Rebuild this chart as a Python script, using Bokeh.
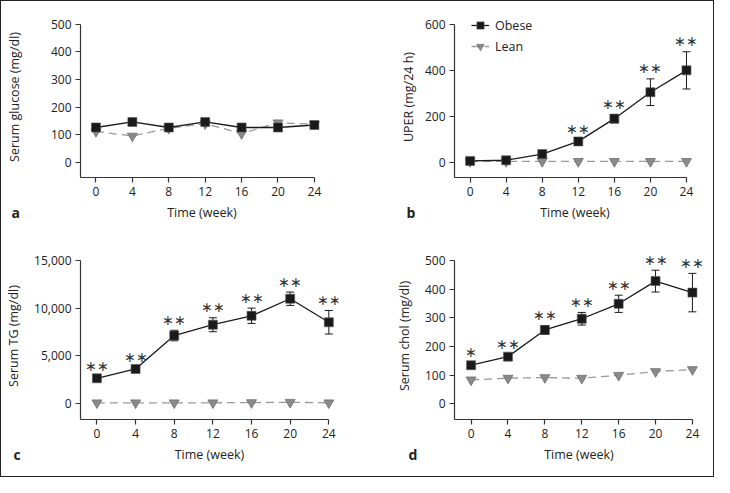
from bokeh.plotting import figure
from bokeh.models import (ColumnDataSource, Range1d, FixedTicker, NumeralTickFormatter,
                          Whisker, TeeHead, LabelSet, Label, Legend, LegendItem)
from bokeh.layouts import column, row
from bokeh.embed import file_html
from bokeh.resources import INLINE

# ---------------- data ----------------
weeks = [0, 4, 8, 12, 16, 20, 24]
week_ticks = [0, 4, 8, 12, 16, 20, 24]

glucose_obese = [126, 146, 126, 146, 126, 126, 135]
glucose_obese_err = [0, 0, 0, 0, 0, 0, 0]
glucose_lean = [112, 95, 123, 140, 104, 143, 138]
glucose_stars = ["", "", "", "", "", "", ""]
glucose_ticks = [0, 100, 200, 300, 400, 500]

uper_obese = [5, 8, 35, 90, 189, 304, 399]
uper_obese_err = [3, 3, 5, 8, 18, 58, 81]
uper_lean = [3, 3, 3, 3, 3, 3, 3]
uper_stars = ["", "", "", "∗∗", "∗∗", "∗∗", "∗∗"]
uper_ticks = [0, 200, 400, 600]

tg_obese = [2665, 3640, 7140, 8270, 9210, 10990, 8530]
tg_obese_err = [150, 150, 550, 730, 800, 700, 1230]
tg_lean = [100, 100, 100, 100, 120, 150, 100]
tg_stars = ["∗∗", "∗∗", "∗∗", "∗∗", "∗∗", "∗∗", "∗∗"]
tg_ticks = [0, 5000, 10000, 15000]

chol_obese = [135, 165, 258, 297, 349, 428, 388]
chol_obese_err = [8, 6, 15, 22, 30, 38, 67]
chol_lean = [84, 90, 92, 90, 100, 113, 120]
chol_stars = ["∗", "∗∗", "∗∗", "∗∗", "∗∗", "∗∗", "∗∗"]
chol_ticks = [0, 100, 200, 300, 400, 500]

FONT = "Open Sans"
TXT = "#222222"
OBESE_C = "#1a1a1a"
LEAN_FILL = "#8a8a8a"
LEAN_LINE = "#999999"


def panel(W, H, L, R, T, B, xmin, xend, ymin, ymax, ticks, ylabel, obese, err, lean, stars,
          letter, ylab_standoff, letter_side, letter_x, fmt=None, legend=None):
    kx = (R - L) / (24 - xmin)
    frame_right = L + kx * (xend - xmin)
    yend = ymax + 0.05 * (ymax - ymin)
    ky = (B - T) / (ymax - ymin)
    frame_top = B - ky * (yend - ymin)
    border_right = int(round(W - frame_right))
    frame_right = W - border_right

    p = figure(width=W, height=H, output_backend="svg", toolbar_location=None,
               x_range=Range1d(xmin, xend), y_range=Range1d(ymin, yend),
               min_border_left=int(round(L)), min_border_right=border_right,
               min_border_top=int(round(frame_top)), min_border_bottom=int(round(H - B)))
    p.outline_line_color = None
    p.grid.visible = False
    p.background_fill_color = "white"
    p.border_fill_color = "white"

    for ax in (p.xaxis[0], p.yaxis[0]):
        ax.axis_line_color = "#333333"
        ax.axis_line_width = 1.2
        ax.major_tick_line_color = "#333333"
        ax.major_tick_line_width = 1.2
        ax.major_tick_out = 5
        ax.major_tick_in = 0
        ax.minor_tick_line_color = None
        ax.major_label_text_font = FONT
        ax.major_label_text_font_size = "12px"
        ax.major_label_text_color = TXT
        ax.axis_label_text_font = FONT
        ax.axis_label_text_font_size = "12.5px"
        ax.axis_label_text_font_style = "normal"
        ax.axis_label_text_color = TXT
        ax.major_label_standoff = 4

    p.xaxis.ticker = FixedTicker(ticks=week_ticks)
    p.xaxis.bounds = (xmin, 24)
    p.xaxis.axis_label = "Time (week)"
    p.xaxis.axis_label_standoff = 5
    p.yaxis.ticker = FixedTicker(ticks=ticks)
    p.yaxis.bounds = (ymin, ymax)
    p.yaxis.axis_label = ylabel
    p.yaxis.axis_label_standoff = ylab_standoff
    if fmt:
        p.yaxis.formatter = NumeralTickFormatter(format=fmt)

    src = ColumnDataSource(dict(x=weeks, obese=obese, lean=lean,
                                upper=[o + e for o, e in zip(obese, err)],
                                lower=[o - e for o, e in zip(obese, err)],
                                stars=stars))

    lean_line = p.line("x", "lean", source=src, line_color=LEAN_LINE, line_width=1.3,
                       line_dash="8 5")
    lean_pts = p.scatter("x", "lean", source=src, marker="inverted_triangle", size=10,
                         fill_color=LEAN_FILL, line_color="#6f6f6f", line_width=0.8)

    if any(e > 0 for e in err):
        wh = Whisker(source=src, base="x", upper="upper", lower="lower",
                     line_color=OBESE_C, line_width=1,
                     upper_head=TeeHead(size=8, line_color=OBESE_C, line_width=1),
                     lower_head=TeeHead(size=8, line_color=OBESE_C, line_width=1))
        p.add_layout(wh)

    ob_line = p.line("x", "obese", source=src, line_color=OBESE_C, line_width=1.3)
    ob_pts = p.scatter("x", "obese", source=src, marker="square", size=9,
                       fill_color=OBESE_C, line_color="#555555", line_width=0.6)

    lbl = LabelSet(x="x", y="upper", text="stars", source=src, y_offset=10,
                   text_align="center", text_baseline="middle",
                   text_font="DejaVu Sans", text_font_size="14px", text_color="#333333")
    p.add_layout(lbl)

    # panel letter, held in a side panel (side-panel annotations are not clipped)
    lx = letter_x - frame_right if letter_side == "right" else letter_x
    p.add_layout(Label(x=lx, y=-35, x_units="screen", y_units="screen",
                       text=letter, text_font=FONT, text_font_size="14px",
                       text_font_style="bold", text_color=TXT, text_align="left",
                       text_baseline="middle"), letter_side)

    if legend is not None:
        leg = Legend(items=[LegendItem(label="Obese", renderers=[ob_line, ob_pts]),
                            LegendItem(label="Lean", renderers=[lean_line, lean_pts])],
                     location=legend, orientation="vertical",
                     background_fill_alpha=0, border_line_color=None,
                     padding=0, margin=0, spacing=1, label_height=20, glyph_height=20,
                     glyph_width=18, label_standoff=6,
                     label_text_font=FONT, label_text_font_size="12.5px",
                     label_text_color=TXT)
        p.add_layout(leg)
    return p


pa = panel(356, 237, 79, 313, 20, 176, -1.7, 25.0, -55, 500, glucose_ticks,
           "Serum glucose (mg/dl)", glucose_obese, glucose_obese_err, glucose_lean,
           glucose_stars, "a", 25, "right", 10)
pb = panel(356, 237, 97, 329, 23, 176, -1.73, 25.0, -67, 600, uper_ticks,
           "UPER (mg/24 h)", uper_obese, uper_obese_err, uper_lean,
           uper_stars, "b", 5, "left", 19, legend=(17, 121))
pc = panel(356, 238, 79, 327, 16, 181, -1.7, 25.0, -1650, 15000, tg_ticks,
           "Serum TG (mg/dl)", tg_obese, tg_obese_err, tg_lean,
           tg_stars, "c", 9, "right", 12, fmt="0,0")
pd = panel(356, 238, 97, 335, 22, 181, -1.8, 25.2, -54, 500, chol_ticks,
           "Serum chol (mg/dl)", chol_obese, chol_obese_err, chol_lean,
           chol_stars, "d", 9, "left", 25)

layout = column(row(pa, pb), row(pc, pd))
layout.styles = {"border": "1px solid #222222"}

open("out.html", "w").write(file_html(layout, INLINE))
